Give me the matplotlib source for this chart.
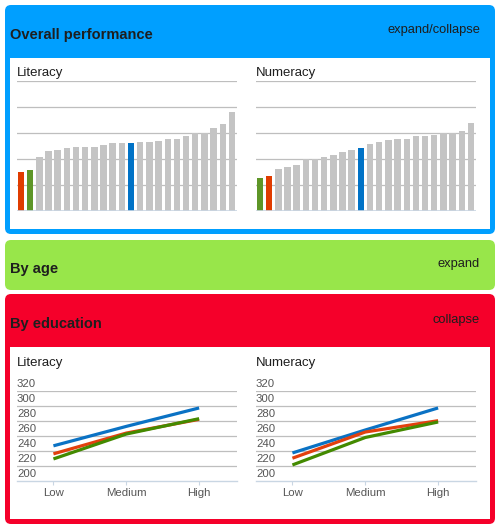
import matplotlib.pyplot as plt
import matplotlib.transforms as mtransforms
from matplotlib.patches import FancyBboxPatch, Rectangle
import numpy as np

plt.rcParams['font.family'] = ['Liberation Sans', 'DejaVu Sans']

# overall performance (relative units, one grid step = 1)
literacy_overall = [1.50, 1.58, 2.08, 2.31, 2.35, 2.42, 2.46, 2.46, 2.46, 2.54, 2.62, 2.62,
                    2.62, 2.65, 2.65, 2.69, 2.77, 2.77, 2.88, 2.99, 2.99, 3.19, 3.35, 3.81]
numeracy_overall = [1.27, 1.35, 1.62, 1.69, 1.77, 2.00, 2.00, 2.08, 2.15, 2.27, 2.35, 2.42,
                    2.58, 2.65, 2.73, 2.77, 2.77, 2.88, 2.88, 2.92, 3.00, 3.00, 3.08, 3.38]
literacy_highlight = {0: 'red', 1: 'green', 12: 'blue'}
numeracy_highlight = {0: 'green', 1: 'red', 11: 'blue'}

# by education
education_levels = ['Low', 'Medium', 'High']
literacy_edu = {'blue': [246.5, 272.4, 297.0],
                'red': [235.8, 263.5, 281.8],
                'green': [229.0, 262.2, 282.7]}
numeracy_edu = {'blue': [237.0, 267.6, 297.0],
                'red': [230.0, 264.9, 280.0],
                'green': [221.0, 257.6, 278.3]}
y_ticks = [200, 220, 240, 260, 280, 300, 320]

bar_colors = {'red': '#E03C00', 'green': '#5E9628', 'blue': '#0072C6'}
line_colors = {'red': '#E2400E', 'green': '#438A00', 'blue': '#0A72C4'}
grey_bar = '#C4C4C4'
grid_col = '#BEBEBE'
base_col = '#C9D6E3'
dark = '#1E1E1E'

W, H = 500, 529
fig = plt.figure(figsize=(W / 100, H / 100), dpi=100)
bg = fig.add_axes([0, 0, 1, 1])
bg.set_xlim(0, W)
bg.set_ylim(H, 0)
bg.axis('off')


def panel(top, bottom, color):
    bg.add_patch(FancyBboxPatch((5, top), 490, bottom - top,
                                boxstyle='round,pad=0,rounding_size=6',
                                fc=color, ec='none'))


def px_axes(left, top, right, bottom):
    return fig.add_axes([left / W, 1 - bottom / H, (right - left) / W, (bottom - top) / H])


panel(5, 234, '#009FFF')
bg.add_patch(Rectangle((10, 58), 480, 171, fc='white', ec='none'))
panel(240, 290, '#98E64A')
panel(294, 524, '#F5002A')
bg.add_patch(Rectangle((10, 347), 480, 172, fc='white', ec='none'))

bg.text(10, 39, 'Overall performance', fontsize=10.5, weight='bold', color=dark, va='baseline')
bg.text(480, 32.7, 'expand/collapse', fontsize=9.3, color=dark, ha='right', va='baseline')
bg.text(10, 272.5, 'By age', fontsize=10.5, weight='bold', color=dark, va='baseline')
bg.text(480, 267.5, 'expand', fontsize=9.3, color=dark, ha='right', va='baseline')
bg.text(10, 328, 'By education', fontsize=10.5, weight='bold', color=dark, va='baseline')
bg.text(480, 323, 'collapse', fontsize=9.3, color=dark, ha='right', va='baseline')

for x0, name in [(17, 'Literacy'), (256, 'Numeracy')]:
    bg.text(x0, 76, name, fontsize=9.5, color=dark, va='baseline')
    bg.text(x0, 366, name, fontsize=9.5, color=dark, va='baseline')


def bar_chart(ax, values, highlight):
    n = len(values)
    cols = [bar_colors[highlight[i]] if i in highlight else grey_bar for i in range(n)]
    for y in range(1, 6):
        ax.axhline(y, color=grid_col, lw=0.9, zorder=0)
    ax.bar(np.arange(n), values, width=0.7, color=cols, zorder=2)
    ax.axhline(0, color=base_col, lw=1.2, zorder=3)
    ax.set_xlim(-0.43, n - 0.45)
    ax.set_ylim(0, 5)
    ax.axis('off')


def line_chart(ax, series):
    x = np.arange(len(education_levels))
    for v in y_ticks[1:]:
        ax.axhline(v, color=grid_col, lw=0.9, zorder=0)
    for key in ['blue', 'red', 'green']:
        ax.plot(x, series[key], color=line_colors[key], lw=2.3, solid_capstyle='butt', zorder=3)
    ax.set_xlim(-0.5, 2.52)
    ax.set_ylim(200, 320)
    for s in ['top', 'right', 'left']:
        ax.spines[s].set_visible(False)
    ax.spines['bottom'].set_color(base_col)
    ax.spines['bottom'].set_linewidth(1.0)
    ax.set_xticks(x)
    ax.set_xticklabels(education_levels, fontsize=8.2, color='#555555')
    ax.tick_params(axis='x', length=3, width=0.8, color=base_col, pad=2)
    ax.set_yticks([])
    trans = mtransforms.offset_copy(ax.get_yaxis_transform(), fig=fig, y=4, units='dots')
    for v in y_ticks:
        ax.text(0, v, str(v), transform=trans, fontsize=8.2, color='#555555',
                ha='left', va='baseline', clip_on=False)
    ax.patch.set_visible(False)


bar_chart(px_axes(17, 81, 237, 211), literacy_overall, literacy_highlight)
bar_chart(px_axes(256, 81, 476, 211), numeracy_overall, numeracy_highlight)
line_chart(px_axes(17, 390.7, 237, 480.7), literacy_edu)
line_chart(px_axes(256, 390.7, 476, 480.7), numeracy_edu)

fig.savefig('out.png', dpi=100)
